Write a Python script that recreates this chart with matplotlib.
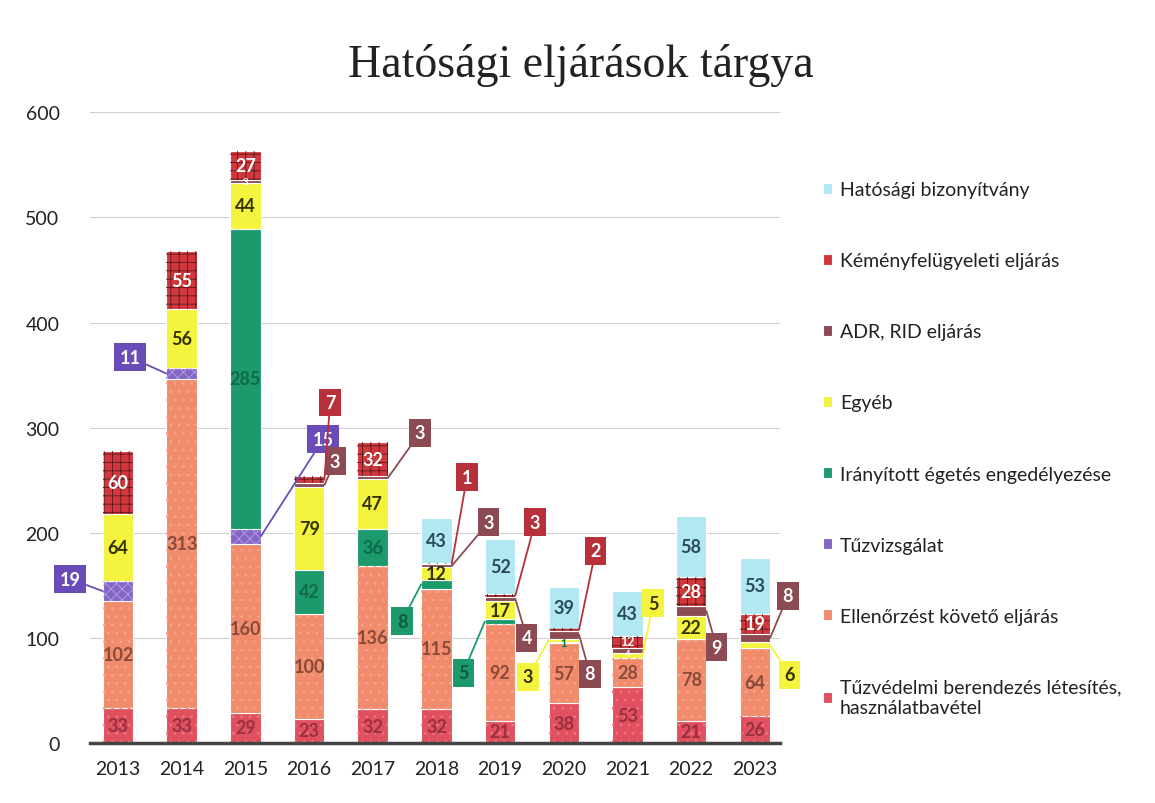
import matplotlib
matplotlib.use("Agg")
import matplotlib.pyplot as plt
import numpy as np

# data (bottom to top of each stack)
years = ['2013', '2014', '2015', '2016', '2017', '2018', '2019', '2020', '2021', '2022', '2023']
tuzvedelmi = [33, 33, 29, 23, 32, 32, 21, 38, 53, 21, 26]
ellenorzes = [102, 313, 160, 100, 136, 115, 92, 57, 28, 78, 64]
tuzvizsgalat = [19, 11, 15, 0, 0, 0, 0, 0, 0, 0, 0]
egetes = [0, 0, 285, 42, 36, 8, 5, 1, 0, 0, 0]
egyeb = [64, 56, 44, 79, 47, 12, 17, 3, 5, 22, 6]
adr = [0, 0, 3, 3, 3, 3, 4, 8, 4, 9, 8]
kemeny = [60, 55, 27, 7, 32, 1, 3, 2, 12, 28, 19]
hatosagi = [0, 0, 0, 0, 0, 43, 52, 39, 43, 58, 53]

names = ['Tűzvédelmi berendezés létesítés,\nhasználatbavétel', 'Ellenőrzést követő eljárás',
         'Tűzvizsgálat', 'Irányított égetés engedélyezése', 'Egyéb', 'ADR, RID eljárás',
         'Kéményfelügyeleti eljárás', 'Hatósági bizonyítvány']
series = [tuzvedelmi, ellenorzes, tuzvizsgalat, egetes, egyeb, adr, kemeny, hatosagi]
colors = ['#e0505e', '#f08c6c', '#8466c4', '#1c9a6c', '#f4f43e', '#8c4a52', '#d0383e', '#b2e8f2']
hatches = ['..', '..', 'xxx', '', '', '', '++', '']
hatch_cols = ['#f07a86', '#f6a88c', '#b8a0e8', None, None, None, '#5a1818', None]
label_cols = ['#9a3040', '#8a4a3a', '#ffffff', '#0e6a4a', '#333300', '#ffffff', '#ffffff', '#2a4a5a']
box_cols = [None, None, '#6a4cb8', '#1c9a6c', '#f4f43e', '#8c4a52', '#b8303a', None]
box_text = [None, None, 'white', '#0e5a3e', '#333300', 'white', 'white', None]

# callouts: (series index, year index) -> box position
callouts = {(2, 0): (-0.75, 156), (2, 1): (0.19, 367), (2, 2): (3.22, 289),
            (6, 3): (3.33, 324), (5, 3): (3.41, 268), (5, 4): (4.74, 295),
            (3, 5): (4.46, 116), (6, 5): (5.48, 253), (5, 5): (5.82, 210),
            (3, 6): (5.42, 67), (6, 6): (6.55, 210), (5, 6): (6.42, 100),
            (4, 7): (6.44, 63), (5, 7): (7.41, 66), (6, 7): (7.50, 183),
            (4, 8): (8.40, 133), (5, 9): (9.40, 91), (5, 10): (10.52, 140),
            (4, 10): (10.55, 65)}
# small in-bar labels: (series index, year index) -> (font size, vertical nudge)
small = {(5, 2): (7, 0), (3, 7): (8, 0), (6, 8): (9, 1.5), (5, 8): (7, -2.5)}

plt.rcParams['hatch.linewidth'] = 0.6

fig = plt.figure(figsize=(11.55, 8.04), dpi=100)
ax = fig.add_axes([0.078, 0.0746, 0.597, 0.7844])

x = np.arange(len(years))
w = 0.48
bottom = np.zeros(len(years))
handles = []
for i, vals in enumerate(series):
    vals = np.array(vals, dtype=float)
    b = ax.bar(x, vals, w, bottom=bottom, color=colors[i], edgecolor='white', linewidth=0.8,
               zorder=2, label=names[i])
    handles.append(b)
    if hatches[i]:
        ax.bar(x, vals, w, bottom=bottom, facecolor='none', edgecolor=hatch_cols[i],
               linewidth=0, hatch=hatches[i], zorder=2.5)
    for j, v in enumerate(vals):
        if v <= 0:
            continue
        mid = bottom[j] + v / 2
        if (i, j) in callouts:
            bx, by = callouts[(i, j)]
            side = x[j] - w / 2 if bx < x[j] else x[j] + w / 2
            ax.annotate(f'{int(v)}', xy=(side, mid), xytext=(bx, by),
                        ha='center', va='center', fontsize=13, fontweight='bold',
                        color=box_text[i], family='Lato',
                        bbox=dict(boxstyle='square,pad=0.3', fc=box_cols[i], ec='none'),
                        arrowprops=dict(arrowstyle='-', color=box_cols[i], lw=1.3,
                                        shrinkA=0, shrinkB=0),
                        zorder=4, annotation_clip=False)
        else:
            fs, dy = small.get((i, j), (13, 0))
            ax.text(x[j], mid + dy, f'{int(v)}', ha='center', va='center', fontsize=fs,
                    fontweight='bold', color=label_cols[i], family='Lato', zorder=3)
    bottom += vals

ax.set_xlim(-0.44, 10.39)
ax.set_ylim(0, 600)
ax.set_yticks(range(0, 601, 100))
ax.set_xticks(x)
ax.set_xticklabels(years)
ax.tick_params(axis='both', length=0, labelsize=14, colors='#222222', pad=12)
for lab in ax.get_xticklabels() + ax.get_yticklabels():
    lab.set_family('Lato')
ax.yaxis.set_tick_params(pad=22)
ax.grid(axis='y', color='#d0d0d0', linewidth=0.8, zorder=0)
for s in ['top', 'right', 'left']:
    ax.spines[s].set_visible(False)
ax.spines['bottom'].set_color('#444444')
ax.spines['bottom'].set_linewidth(2.5)

fig.text(0.503, 0.918, 'Hatósági eljárások tárgya', ha='center', va='center',
         fontsize=33, family='Liberation Serif', color='#222222')

leg = fig.legend(handles[::-1], names[::-1], loc='upper left',
                 bbox_to_anchor=(0.697, 0.795), frameon=False,
                 handlelength=0.5, handleheight=0.5, handletextpad=0.4,
                 labelspacing=2.78, prop={'family': 'Lato', 'size': 14})
for t in leg.get_texts():
    t.set_color('#222222')

fig.savefig('out.png', dpi=100)
